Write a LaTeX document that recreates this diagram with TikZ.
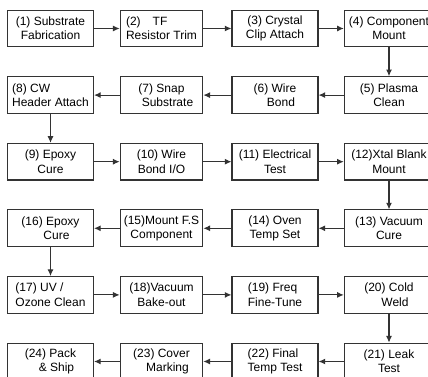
\documentclass[tikz,border=0pt]{standalone}
\usepackage{fontspec}
\setmainfont{Liberation Sans}
\usepackage{xcolor}
\usetikzlibrary{arrows.meta}
\definecolor{ink}{HTML}{333333}

\begin{document}
\begin{tikzpicture}[
  x=0.75pt, y=-0.75pt,
  stage/.style={draw=ink, line width=0.8pt, minimum width=#1, minimum height=27.5pt,
                inner sep=1pt, align=center, font=\fontsize{9}{10.8}\selectfont},
  stage/.default=64.5pt,
  flow/.style={draw=ink, line width=0.8pt, -{Latex[length=5pt,width=4.5pt]}},
]
\useasboundingbox (0,0) rectangle (428,377);
% row 1
\node[stage]                  (s1)  at (50.5, 28.5)  {(1) Substrate\\Fabrication};
\node[stage=62pt, align=left] (s2)  at (161.5,28.5)  {(2)\quad TF\\Resistor Trim};
\node[stage]                  (s3)  at (275,  28.5)  {(3) Crystal\\Clip Attach};
\node[stage=67pt]             (s4)  at (389,  28.5)  {(4) Component\\Mount};
% row 2
\node[stage=67pt]             (s5)  at (389,  95.1)  {(5) Plasma\\Clean};
\node[stage]                  (s6)  at (275,  95.1)  {(6) Wire\\\quad Bond};
\node[stage=62pt]             (s7)  at (161.5,95.1)  {(7) Snap\\\quad Substrate};
\node[stage, align=left]      (s8)  at (50.5, 95.1)  {(8) CW\\Header Attach};
% row 3
\node[stage]                  (s9)  at (50.5, 161.7) {(9) Epoxy\\Cure};
\node[stage=62pt]             (s10) at (161.5,161.7) {(10) Wire\\Bond I/O};
\node[stage]                  (s11) at (275,  161.7) {(11) Electrical\\Test};
\node[stage=67pt]             (s12) at (389,  161.7) {(12)Xtal Blank\\Mount};
% row 4
\node[stage=67pt]             (s13) at (389,  228.3) {(13) Vacuum\\Cure};
\node[stage]                  (s14) at (275,  228.3) {(14) Oven\\Temp Set};
\node[stage=62pt]             (s15) at (161.5,228.3) {(15)Mount F.S\\Component};
\node[stage]                  (s16) at (50.5, 228.3) {(16) Epoxy\\\quad Cure};
% row 5
\node[stage, align=left]      (s17) at (50.5, 294.9) {(17) UV /\\Ozone Clean};
\node[stage=62pt]             (s18) at (161.5,294.9) {(18)Vacuum\\Bake-out};
\node[stage, align=left]      (s19) at (275,  294.9) {(19) Freq\\Fine-Tune};
\node[stage=67pt]             (s20) at (389,  294.9) {(20) Cold\\\quad Weld};
% row 6
\node[stage=67pt]             (s21) at (389,  361.5) {(21) Leak\\Test};
\node[stage, align=left]      (s22) at (275,  361.5) {(22) Final\\Temp Test};
\node[stage=62pt]             (s23) at (161.5,361.5) {(23) Cover\\\quad Marking};
\node[stage]                  (s24) at (50.5, 361.5) {(24) Pack\\\quad \& Ship};
% connectors, in process order
\foreach \a/\b in {s1/s2, s2/s3, s3/s4, s4/s5, s5/s6, s6/s7, s7/s8, s8/s9,
                   s9/s10, s10/s11, s11/s12, s12/s13, s13/s14, s14/s15, s15/s16, s16/s17,
                   s17/s18, s18/s19, s19/s20, s20/s21, s21/s22, s22/s23, s23/s24}
  \draw[flow] (\a) -- (\b);
\end{tikzpicture}
\end{document}
